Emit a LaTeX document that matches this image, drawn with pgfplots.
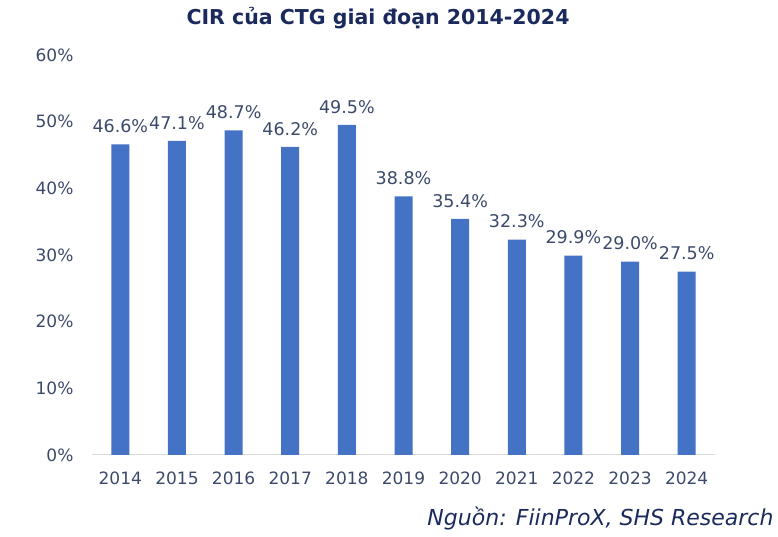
\documentclass[border=0pt]{standalone}
\usepackage{pgfplots}
\pgfplotsset{compat=1.18}
\usepackage{fontspec}
\setmainfont{DejaVu Sans}
\definecolor{barblue}{HTML}{4472C4}
\definecolor{ticktxt}{HTML}{3B4A6B}
\definecolor{titletxt}{HTML}{1B2A5C}
\begin{document}
\begin{tikzpicture}
\useasboundingbox (0,0) rectangle (778pt,537pt);
\begin{axis}[
    at={(92pt,82pt)},
    anchor=south west,
    scale only axis,
    width=623pt, height=400pt,
    xmin=-0.5, xmax=10.5,
    ymin=0, ymax=60,
    ytick={0,10,...,60},
    yticklabel={\pgfmathprintnumber{\tick}\%},
    xtick=data,
    xticklabels={2014,2015,2016,2017,2018,2019,2020,2021,2022,2023,2024},
    axis x line*=bottom,
    axis y line*=left,
    x axis line style={draw=black!15, line width=1pt, -},
    y axis line style={draw=none},
    tick style={draw=none},
    ticklabel style={font=\fontsize{17}{20}\selectfont, text=ticktxt},
    yticklabel style={xshift=-15pt},
    xticklabel style={yshift=-9pt},
    /pgf/number format/assume math mode=true,
    ybar, bar width=18pt,
    point meta=y,
    nodes near coords={\pgfmathprintnumber[fixed,fixed zerofill,precision=1,assume math mode=true]{\pgfplotspointmeta}\%},
    nodes near coords style={font=\fontsize{17.5}{20}\selectfont, text=ticktxt, yshift=8pt},
    clip=false,
]
\addplot[fill=barblue, draw=none] coordinates {
    (0,46.6) (1,47.1) (2,48.7) (3,46.2) (4,49.5) (5,38.8)
    (6,35.4) (7,32.3) (8,29.9) (9,29.0) (10,27.5)
};
\end{axis}
\node[font=\bfseries\fontsize{20.5}{24}\selectfont, text=titletxt] at (378pt,519pt) {CIR của CTG giai đoạn 2014-2024};
\node[font=\itshape\fontsize{22}{24}\selectfont, text=titletxt, anchor=east] at (777pt,19pt) {Nguồn: FiinProX, SHS Research};
\end{tikzpicture}
\end{document}
